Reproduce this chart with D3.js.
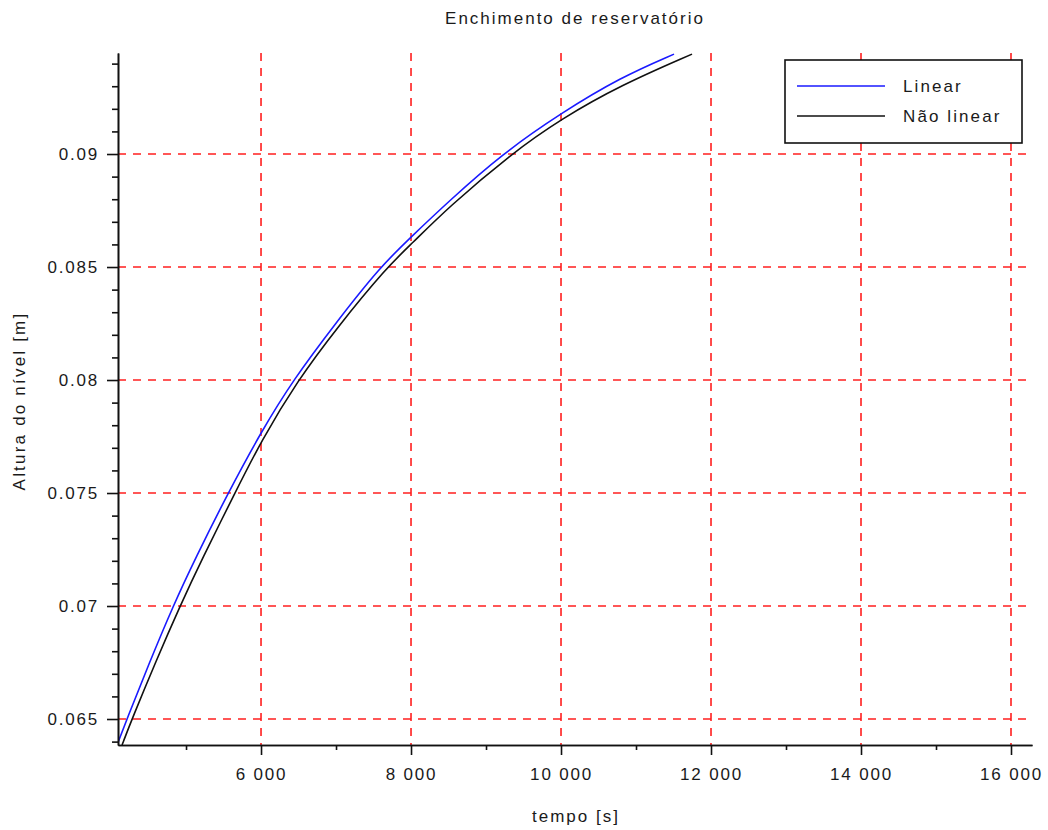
<!DOCTYPE html>
<html>
<head>
<meta charset="utf-8">
<script src="https://cdn.jsdelivr.net/npm/d3@7"></script>
<style>
  html, body { margin: 0; padding: 0; background: #fff; }
  svg text { font-family: "Liberation Sans", Arial, sans-serif; fill: #1a1a1a; }
</style>
</head>
<body>
<div id="chart"></div>
<script>
// values
const timeLinear = [4080, 4213, 4500, 4827, 5120, 5560, 6000, 6427, 7000, 7587, 8000, 8500, 9213, 10000, 10800, 11507];
const levelLinear = [0.06385, 0.065, 0.0674, 0.07, 0.07208, 0.075, 0.0777, 0.08, 0.08254, 0.085, 0.08633, 0.0879, 0.09, 0.09181, 0.0934, 0.09442];
const timeNonLinear = [4147, 4280, 4600, 4920, 5213, 5653, 6000, 6493, 7000, 7680, 8000, 8500, 9333, 10000, 10800, 11747];
const levelNonLinear = [0.06385, 0.065, 0.06757, 0.07, 0.07208, 0.075, 0.0773, 0.08, 0.08226, 0.085, 0.0860, 0.08765, 0.09, 0.09155, 0.09305, 0.09442];

const xTicks = [6000, 8000, 10000, 12000, 14000, 16000];
const xMinorTicks = [5000, 7000, 9000, 11000, 13000, 15000];
const yTicks = [0.065, 0.07, 0.075, 0.08, 0.085, 0.09];
const yMinorTicks = [0.064, 0.066, 0.067, 0.068, 0.069, 0.071, 0.072, 0.073, 0.074, 0.076, 0.077, 0.078, 0.079,
  0.081, 0.082, 0.083, 0.084, 0.086, 0.087, 0.088, 0.089, 0.091, 0.092, 0.093, 0.094];

const seriesNames = ['Linear', 'Não linear'];
const seriesColors = ['#1a1aff', '#111'];

const xDomain = [4093, 16280];
const yDomain = [0.06385, 0.09447];

const width = 1048;
const height = 830;
const margin = { left: 118, right: 16, top: 53, bottom: 85 };
const innerW = width - margin.left - margin.right;
const innerH = height - margin.top - margin.bottom;

const svg = d3.select('#chart')
  .append('svg')
  .attr('width', width)
  .attr('height', height);

const g = svg.append('g')
  .attr('transform', `translate(${margin.left},${margin.top})`);

const x = d3.scaleLinear().domain(xDomain).range([0, innerW]);
const y = d3.scaleLinear().domain(yDomain).range([innerH, 0]);

const fmtX = d3.formatLocale({ decimal: '.', thousands: ' ', grouping: [3], currency: ['', ''] }).format(',');
const fmtY = (v) => String(+v.toFixed(3));

// grid
const grid = g.append('g')
  .attr('stroke', '#ff1f1f')
  .attr('stroke-width', 1.6)
  .attr('stroke-dasharray', '8,7');
grid.selectAll('.gx')
  .data(xTicks)
  .join('line')
  .attr('class', 'gx')
  .attr('x1', (d) => x(d))
  .attr('x2', (d) => x(d))
  .attr('y1', 0)
  .attr('y2', innerH);
grid.selectAll('.gy')
  .data(yTicks)
  .join('line')
  .attr('class', 'gy')
  .attr('y1', (d) => y(d))
  .attr('y2', (d) => y(d))
  .attr('x1', 0)
  .attr('x2', innerW);

// curves
g.append('clipPath')
  .attr('id', 'plot-clip')
  .append('rect')
  .attr('width', innerW)
  .attr('height', innerH);

const line = d3.line()
  .x((d) => x(d[0]))
  .y((d) => y(d[1]))
  .curve(d3.curveBasis);

const series = [
  d3.zip(timeLinear, levelLinear),
  d3.zip(timeNonLinear, levelNonLinear),
];

g.append('g')
  .attr('clip-path', 'url(#plot-clip)')
  .attr('fill', 'none')
  .attr('stroke-width', 1.6)
  .selectAll('path')
  .data(series)
  .join('path')
  .attr('stroke', (d, i) => seriesColors[i])
  .attr('d', line);

// axes
const styleAxis = (sel) => {
  sel.select('.domain').attr('stroke', '#111').attr('stroke-width', 1.6);
  sel.selectAll('.tick line').attr('stroke', '#111').attr('stroke-width', 1.6);
  sel.selectAll('text')
    .attr('font-size', 17)
    .attr('letter-spacing', 1.8)
    .attr('fill', '#222');
};

g.append('g')
  .attr('transform', `translate(0,${innerH})`)
  .call(d3.axisBottom(x).tickValues(xMinorTicks).tickSize(5).tickSizeOuter(0).tickFormat(''))
  .call(styleAxis);
g.append('g')
  .attr('transform', `translate(0,${innerH})`)
  .call(d3.axisBottom(x).tickValues(xTicks).tickSize(10).tickSizeOuter(0).tickPadding(13).tickFormat(fmtX))
  .call(styleAxis);

g.append('g')
  .call(d3.axisLeft(y).tickValues(yMinorTicks).tickSize(6).tickSizeOuter(0).tickFormat(''))
  .call(styleAxis);
g.append('g')
  .call(d3.axisLeft(y).tickValues(yTicks).tickSize(11).tickSizeOuter(0).tickPadding(8).tickFormat(fmtY))
  .call(styleAxis);

// title & labels
svg.append('text')
  .attr('x', 575)
  .attr('y', 24)
  .attr('text-anchor', 'middle')
  .attr('font-size', 17)
  .attr('letter-spacing', 2)
  .text('Enchimento de reservatório');

svg.append('text')
  .attr('x', 576)
  .attr('y', 822)
  .attr('text-anchor', 'middle')
  .attr('font-size', 17)
  .attr('letter-spacing', 2)
  .text('tempo [s]');

svg.append('text')
  .attr('transform', `translate(25,${margin.top + innerH / 2 + 2}) rotate(-90)`)
  .attr('text-anchor', 'middle')
  .attr('font-size', 17)
  .attr('letter-spacing', 2.2)
  .text('Altura do nível [m]');

// legend
const legend = svg.append('g').attr('transform', 'translate(785,60)');
legend.append('rect')
  .attr('width', 237)
  .attr('height', 83)
  .attr('fill', '#fff')
  .attr('stroke', '#111')
  .attr('stroke-width', 1.6);
const items = legend.selectAll('.item')
  .data(seriesNames)
  .join('g')
  .attr('class', 'item')
  .attr('transform', (d, i) => `translate(0,${26 + i * 30})`);
items.append('line')
  .attr('x1', 12)
  .attr('x2', 100)
  .attr('stroke', (d, i) => seriesColors[i])
  .attr('stroke-width', 1.6);
items.append('text')
  .attr('x', 118)
  .attr('y', 6)
  .attr('font-size', 17)
  .attr('letter-spacing', 2.1)
  .text((d) => d);
</script>
</body>
</html>
